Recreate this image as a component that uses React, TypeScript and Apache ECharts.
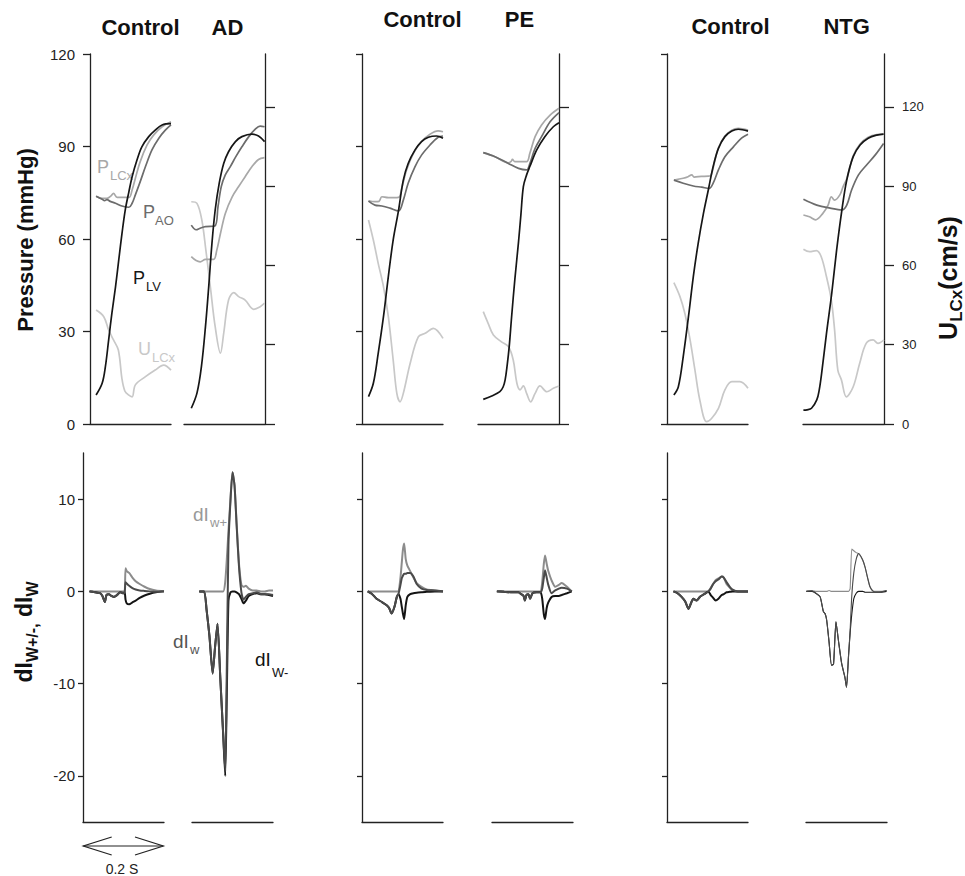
import React, { useEffect, useRef } from 'react';
import * as echarts from 'echarts';

const FONT = '"Liberation Sans", Arial, Helvetica, sans-serif';

type Pt = [number, number];

// ---------------- Top row: [time (ms), value] ----------------
// Group 1 – Control
const PLV_C1: Pt[] = [[15, 9.4], [30, 13.2], [38, 18.6], [46, 27.2], [54, 35.9], [63, 44.5], [71, 53.2], [79, 61.8], [87, 69.4], [96, 75.3], [104, 80.2], [116, 85.6], [128, 89.9], [145, 93.2], [161, 95.3], [178, 97.0], [200, 97.4]];
const PAO_C1: Pt[] = [[15, 73.9], [30, 72.9], [36, 72.4], [42, 72.8], [50, 72.2], [63, 71.6], [79, 70.7], [96, 70.3], [104, 71.6], [112, 74.3], [124, 78.6], [137, 83.5], [153, 88.9], [170, 92.7], [186, 95.3], [200, 97.0]];
const PLCX_C1: Pt[] = [[15, 73.9], [30, 73.2], [42, 73.2], [52, 74.0], [58, 74.8], [67, 73.5], [96, 73.5], [104, 75.9], [112, 79.7], [124, 85.1], [141, 90.5], [157, 93.7], [178, 96.4], [200, 98.0]];
const ULCX_C1: Pt[] = [[15, 43.1], [34, 40.6], [46, 35.6], [58, 31.8], [70, 28.0], [79, 17.0], [86, 12.5], [95, 11.0], [104, 10.3], [112, 14.8], [137, 17.9], [161, 20.4], [182, 22.3], [200, 20.4]];
// Group 1 – AD
const PLV_AD: Pt[] = [[18, 5.1], [32, 10.0], [43, 18.6], [53, 31.6], [61, 44.5], [69, 58.6], [77, 69.4], [87, 78.1], [98, 84.5], [110, 88.3], [127, 91.6], [143, 93.2], [168, 94.0], [184, 93.4], [199, 91.6]];
const PAO_AD: Pt[] = [[18, 64.5], [30, 63.0], [40, 63.5], [53, 64.0], [76, 64.2], [84, 70.5], [92, 77.0], [102, 80.8], [114, 83.4], [128, 86.7], [143, 89.9], [160, 93.2], [176, 95.6], [188, 96.6], [199, 96.4]];
const PLCX_AD: Pt[] = [[18, 54.3], [30, 53.0], [40, 52.6], [53, 53.4], [73, 53.4], [81, 56.4], [90, 61.8], [102, 68.3], [119, 73.7], [135, 77.0], [151, 80.2], [168, 83.5], [184, 85.8], [199, 86.4]];
const ULCX_AD: Pt[] = [[18, 84.1], [32, 83.5], [44, 77.2], [54, 65.8], [65, 52.0], [77, 36.8], [90, 26.8], [98, 34.3], [110, 46.9], [123, 49.7], [135, 48.2], [151, 46.9], [172, 43.4], [188, 44.4], [199, 45.7]];
// Group 2 – Control
const PLV_C2: Pt[] = [[16, 8.9], [28, 13.2], [40, 22.9], [53, 34.8], [65, 47.8], [77, 59.7], [90, 69.1], [102, 79.1], [114, 84.5], [131, 88.9], [147, 91.6], [164, 93.0], [184, 93.4], [200, 92.7]];
const PAO_C2: Pt[] = [[16, 72.3], [32, 71.0], [49, 70.7], [69, 70.0], [90, 69.1], [102, 72.6], [114, 78.1], [131, 83.5], [147, 87.2], [168, 90.5], [188, 93.0], [200, 93.4]];
const PLCX_C2: Pt[] = [[16, 72.4], [32, 72.1], [42, 72.2], [49, 73.7], [65, 73.4], [90, 73.5], [98, 76.4], [110, 82.4], [127, 87.8], [147, 91.6], [168, 94.0], [188, 95.1], [200, 94.8]];
const ULCX_C2: Pt[] = [[16, 77.2], [28, 69.6], [40, 60.8], [53, 52.0], [65, 40.6], [77, 24.2], [86, 11.6], [94, 8.4], [102, 11.6], [119, 23.0], [139, 33.0], [156, 34.3], [176, 36.2], [200, 32.4]];
// Group 2 – PE
const PLV_PE: Pt[] = [[13, 8.0], [34, 9.1], [54, 10.5], [62, 12.0], [67, 14.3], [72, 19.0], [77, 25.0], [83, 34.8], [91, 46.9], [100, 59.0], [106, 68.0], [112, 77.0], [120, 80.8], [128, 83.5], [145, 88.9], [165, 93.2], [186, 96.4], [200, 97.7]];
const PAO_PE: Pt[] = [[13, 88.0], [42, 86.7], [75, 84.5], [100, 82.9], [120, 82.4], [128, 84.5], [141, 89.4], [157, 93.2], [178, 98.0], [200, 101.0]];
const PLCX_PE: Pt[] = [[13, 88.0], [42, 86.7], [75, 84.7], [82, 85.2], [85, 85.8], [91, 85.1], [120, 85.1], [128, 87.8], [141, 93.2], [157, 97.0], [178, 100.2], [200, 102.4]];
const ULCX_PE: Pt[] = [[13, 42.5], [25, 38.1], [38, 33.7], [58, 31.1], [75, 29.3], [87, 24.2], [96, 15.4], [104, 12.9], [112, 14.4], [120, 11.6], [130, 8.4], [141, 11.6], [153, 14.4], [170, 12.2], [186, 13.5], [200, 14.4]];
// Group 3 – Control
const PLV_C3: Pt[] = [[17, 9.4], [28, 12.1], [40, 21.8], [53, 34.8], [65, 47.8], [77, 58.6], [90, 68.3], [102, 75.9], [114, 83.5], [127, 89.4], [143, 93.2], [160, 95.0], [176, 95.6], [200, 95.0]];
const PAO_C3: Pt[] = [[17, 79.1], [40, 78.1], [65, 77.2], [86, 76.8], [104, 76.4], [114, 78.1], [127, 82.4], [143, 86.7], [164, 89.9], [184, 92.7], [200, 94.0]];
const PLCX_C3: Pt[] = [[17, 79.1], [40, 79.7], [52, 80.2], [61, 80.8], [67, 80.1], [85, 80.3], [102, 80.4], [108, 80.6], [112, 82.0], [120, 86.5], [127, 89.6], [143, 93.4], [160, 95.3], [176, 95.9], [200, 95.3]];
const ULCX_C3: Pt[] = [[17, 53.5], [32, 48.2], [44, 41.9], [57, 31.8], [69, 20.4], [81, 9.1], [98, 0.9], [110, 2.1], [127, 5.9], [143, 12.9], [160, 16.0], [180, 16.0], [200, 13.5]];
// Group 3 – NTG
const PLV_NTG: Pt[] = [[1, 4.5], [10, 4.6], [21, 5.1], [34, 7.8], [40, 11.0], [46, 16.4], [58, 29.4], [71, 42.4], [83, 56.4], [96, 69.4], [108, 79.1], [124, 86.7], [141, 90.5], [161, 92.7], [182, 93.7], [199, 94.0]];
const PAO_NTG: Pt[] = [[1, 72.9], [34, 71.0], [67, 70.0], [96, 69.4], [108, 71.0], [120, 75.9], [137, 80.8], [157, 84.0], [178, 87.2], [199, 91.0]];
const PLCX_NTG: Pt[] = [[1, 67.8], [16, 67.2], [31, 66.2], [49, 68.3], [62, 71.0], [70, 73.7], [78, 72.6], [91, 74.3], [99, 77.0], [108, 79.5], [124, 87.0], [141, 90.8], [161, 93.0], [182, 93.9], [199, 94.0]];
const ULCX_NTG: Pt[] = [[1, 66.1], [16, 65.2], [33, 65.6], [45, 63.3], [58, 55.7], [70, 46.9], [78, 35.6], [86, 20.4], [95, 16.6], [107, 10.3], [124, 14.1], [140, 23.0], [156, 30.5], [173, 31.8], [185, 30.5], [200, 31.8]];

// ---------------- Bottom row: time (ms) + wave intensities ----------------
const T_B1C = [16, 30, 42, 48, 54, 58, 64, 70, 76, 84, 92, 100, 103, 105, 108, 114, 122, 130, 140, 152, 165, 180, 200];
const WP_B1C = [0, 0, 0, 0, 0, 0, 0, 0, 0, 0, 0, 0, 0, 2.5, 2.2, 2.0, 1.5, 1.1, 0.8, 0.5, 0.25, 0.1, 0];
const WM_B1C = [0, -0.1, -0.2, -0.5, -1.15, -0.4, -0.3, -0.5, -0.6, -0.4, -0.1, -0.2, -0.1, -0.9, -1.3, -1.4, -1.2, -1.0, -0.7, -0.45, -0.25, -0.1, 0];
const NET_B1C = [0, -0.1, -0.2, -0.5, -1.15, -0.4, -0.3, -0.5, -0.6, -0.4, -0.1, -0.2, -0.1, 1.0, 0.85, 0.6, 0.35, 0.2, 0.1, 0.05, 0, -0.05, 0];

const T_B1A = [18, 30, 36, 43, 51, 57, 63, 70, 77, 82, 86, 90, 95, 100, 105, 110, 116, 122, 127, 133, 140, 150, 160, 170, 180, 190, 200];
const WP_B1A = [0, 0, 0, 0, 0, 0, 0, 0, 0, 1, 3.5, 6.5, 10, 12.9, 11.5, 7.5, 3.0, 0.7, 0.5, 0.6, 0.3, 0.1, 0.1, 0, 0, 0.1, 0.1];
const WM_B1A = [0, 0, -2, -4.8, -8.9, -6, -3.5, -9.5, -15.5, -20, -11, -1, -0.1, 0, 0, -0.1, -0.3, -0.8, -1.3, -1.0, -0.5, -0.3, -0.2, -0.3, -0.3, -0.4, -0.5];
const NET_B1A = [0, 0, -2, -4.8, -8.9, -6, -3.5, -9.5, -15.5, -19.5, -8, 5.0, 9.8, 12.9, 11.5, 7.3, 2.7, -0.1, -0.9, -0.6, -0.3, -0.2, -0.1, -0.3, -0.3, -0.3, -0.4];

const T_B2C = [14, 24, 36, 49, 61, 67, 73, 80, 86, 90, 95, 98, 101, 104, 108, 112, 119, 127, 135, 147, 160, 180, 200];
const WP_B2C = [0, 0, 0, 0, 0, 0, 0, 0, 0, 0, 1.5, 3.0, 4.5, 5.2, 3.5, 2.8, 2.2, 1.5, 0.9, 0.5, 0.2, 0.1, 0];
const WM_B2C = [0, -0.25, -0.8, -1.15, -1.5, -1.8, -2.4, -1.7, -0.6, -0.3, -0.8, -1.6, -2.4, -3.0, -1.5, -0.6, -0.3, -0.2, -0.15, -0.1, -0.05, 0, 0];
const NET_B2C = [0, -0.25, -0.8, -1.15, -1.5, -1.8, -2.4, -1.7, -0.6, -0.3, 0.7, 1.4, 1.7, 1.9, 1.9, 2.0, 2.0, 1.6, 0.8, 0.3, 0.15, 0.1, 0];

const T_B2P = [12, 30, 50, 65, 72, 78, 81, 85, 90, 94, 100, 110, 120, 124, 128, 131, 135, 139, 147, 156, 165, 172, 185, 197];
const WP_B2P = [0, 0, 0, 0, 0, 0, 0, 0, 0, 0, 0, 0, 0, 1.0, 3.0, 3.9, 3.0, 2.2, 1.2, 0.5, 0.7, 0.9, 0.5, 0];
const WM_B2P = [0, -0.05, -0.1, -0.1, -0.3, -0.5, -1.0, -0.4, -0.3, -0.8, -0.2, -0.1, -0.1, -0.8, -2.5, -3.0, -1.8, -1.2, -0.6, -0.5, -0.5, -0.4, -0.2, 0];
const NET_B2P = [0, -0.05, -0.1, -0.1, -0.3, -0.5, -1.0, -0.4, -0.3, -0.8, -0.2, -0.1, -0.1, 0.3, 1.5, 2.3, 1.5, 0.7, -0.2, 0.1, 0.3, 0.4, 0.3, 0];

const T_B3C = [16, 26, 36, 45, 53, 60, 65, 73, 81, 88, 94, 102, 108, 114, 120, 127, 135, 140, 147, 155, 162, 175, 200];
const WP_B3C = [0, 0, 0, 0, 0, 0, 0, 0, 0, 0, 0, 0, 0.4, 0.8, 1.2, 1.4, 1.6, 1.5, 0.8, 0.4, 0.1, 0, 0];
const WM_B3C = [0, -0.2, -0.6, -1.1, -1.9, -1.2, -0.8, -1.0, -0.6, -0.4, -0.25, 0, -0.4, -0.7, -1.0, -0.8, -0.4, -0.3, -0.1, -0.05, 0, 0, 0];
const NET_B3C = [0, -0.2, -0.6, -1.1, -1.9, -1.2, -0.8, -1.0, -0.6, -0.4, -0.25, 0, 0.3, 0.8, 1.1, 1.3, 1.6, 1.5, 1.0, 0.5, 0.2, 0, 0];

const T_B3N = [1, 15, 26, 35, 43, 47, 51, 57, 63, 68, 74, 80, 88, 96, 100, 105, 109, 113, 118, 124, 130, 140, 146, 152, 158, 166, 180, 199];
const WP_B3N = [0, 0.05, 0, 0, 0, 0, 0, 0.1, 0, 0, 0, 0, 0, 0, 0, 0, 0.3, 4.6, 4.4, 4.2, 4.1, 3.4, 2.6, 1.5, 0.5, 0.05, 0, 0.1];
const WM_B3N = [0, 0, -0.25, -0.6, -2.2, -2.4, -3.1, -5.5, -8.0, -7.9, -3.3, -5.3, -7.8, -9.3, -10.4, -7, -4.5, -2.5, -0.8, -0.2, 0, 0, -0.1, -0.1, -0.1, -0.1, -0.1, 0];
const NET_B3N = [0, 0.05, -0.25, -0.6, -2.2, -2.4, -3.1, -5.5, -8.0, -7.9, -3.3, -5.3, -7.8, -9.3, -10.4, -7, -4.2, -0.5, 2.0, 3.5, 4.1, 3.4, 2.6, 1.5, 0.5, 0, -0.1, 0.1];

// ---------------- Axes / labels ----------------
const PRESSURE_TICKS = [0, 30, 60, 90, 120];
const VELOCITY_TICKS = [0, 30, 60, 90, 120];
const WAVE_TICKS = [-20, -10, 0, 10];
const PANEL_TITLES = ['Control', 'AD', 'Control', 'PE', 'Control', 'NTG'];

const C_LV = '#161616';
const C_AO = '#6c6c6c';
const C_LCX = '#a8a8a8';
const C_U = '#c8c8c8';
const C_WP = '#8c8c8c';
const C_WM = '#141414';
const C_NET = '#4a4a4a';
const C_AXIS = '#222222';

const TOP_PANELS = [
  { u: ULCX_C1, lcx: PLCX_C1, ao: PAO_C1, lv: PLV_C1 },
  { u: ULCX_AD, lcx: PLCX_AD, ao: PAO_AD, lv: PLV_AD },
  { u: ULCX_C2, lcx: PLCX_C2, ao: PAO_C2, lv: PLV_C2 },
  { u: ULCX_PE, lcx: PLCX_PE, ao: PAO_PE, lv: PLV_PE },
  { u: ULCX_C3, lcx: PLCX_C3, ao: PAO_C3, lv: PLV_C3 },
  { u: ULCX_NTG, lcx: PLCX_NTG, ao: PAO_NTG, lv: PLV_NTG },
];
const BOTTOM_PANELS = [
  { t: T_B1C, wp: WP_B1C, wm: WM_B1C, net: NET_B1C },
  { t: T_B1A, wp: WP_B1A, wm: WM_B1A, net: NET_B1A },
  { t: T_B2C, wp: WP_B2C, wm: WM_B2C, net: NET_B2C },
  { t: T_B2P, wp: WP_B2P, wm: WM_B2P, net: NET_B2P },
  { t: T_B3C, wp: WP_B3C, wm: WM_B3C, net: NET_B3C },
  { t: T_B3N, wp: WP_B3N, wm: WM_B3N, net: NET_B3N },
];

// layout
const TOP_LEFTS = [90, 184, 362, 478, 667, 803];
const BOT_LEFTS = [83, 192, 362, 492, 667, 806];
const PANEL_W = 81;

function measure(text: string, font: string): number {
  const c = document.createElement('canvas').getContext('2d');
  if (!c) return text.length * 10;
  c.font = font;
  return c.measureText(text).width;
}

function txt(text: string, x: number, y: number, size: number, color: string, bold = false, align = 'left') {
  const font = `${bold ? 'bold ' : ''}${size}px ${FONT}`;
  return {
    type: 'text',
    x,
    y,
    silent: true,
    style: {
      text,
      font,
      fill: color,
      textAlign: align,
      textVerticalAlign: 'middle',
      align,
      verticalAlign: 'middle',
    },
  };
}

type Seg = { text: string; size: number; dy: number };
function rotatedLabel(segs: Seg[], cx: number, cy: number) {
  const fonts = segs.map((s) => `bold ${s.size}px ${FONT}`);
  const widths = segs.map((s, i) => measure(s.text, fonts[i]));
  const total = widths.reduce((a, b) => a + b, 0);
  let x = -total / 2;
  const children = segs.map((s, i) => {
    const el = {
      type: 'text',
      x,
      y: s.dy,
      silent: true,
      style: {
        text: s.text,
        font: fonts[i],
        fill: '#111',
        textAlign: 'left',
        textVerticalAlign: 'middle',
        align: 'left',
        verticalAlign: 'middle',
      },
    };
    x += widths[i];
    return el;
  });
  return { type: 'group', x: cx, y: cy, rotation: Math.PI / 2, children };
}

export default function App() {
  const ref = useRef<HTMLDivElement>(null);

  useEffect(() => {
    document.body.style.margin = '0';
    if (!ref.current) return;
    const chart = echarts.init(ref.current, undefined, { renderer: 'svg' });

    const grid: any[] = [];
    const xAxis: any[] = [];
    const yAxis: any[] = [];
    const series: any[] = [];

    const axisLineStyle = { color: C_AXIS, width: 1.3 };

    // top grids
    TOP_LEFTS.forEach((left, i) => {
      grid.push({ left, top: 54, width: PANEL_W, height: 370, outerBoundsMode: 'none' });
    });
    BOT_LEFTS.forEach((left) => {
      grid.push({ left, top: 453, width: PANEL_W, height: 369, outerBoundsMode: 'none' });
    });
    for (let g = 0; g < 12; g++) {
      xAxis.push({
        gridIndex: g,
        type: 'value',
        min: 0,
        max: 200,
        axisLine: { show: true, onZero: false, lineStyle: axisLineStyle },
        axisTick: { show: false },
        axisLabel: { show: false },
        splitLine: { show: false },
      });
    }
    // top y axes: pressure (2i), velocity (2i+1)
    for (let i = 0; i < 6; i++) {
      const isControl = i % 2 === 0;
      yAxis.push({
        gridIndex: i,
        type: 'value',
        min: 0,
        max: 120,
        interval: 30,
        position: 'left',
        show: isControl,
        axisLine: { show: true, lineStyle: axisLineStyle },
        axisTick: { show: true, length: i === 0 ? 7 : 6, lineStyle: axisLineStyle, customValues: PRESSURE_TICKS },
        axisLabel: {
          show: i === 0,
          margin: 15,
          fontSize: 15,
          color: '#222',
          fontFamily: FONT,
          customValues: PRESSURE_TICKS,
        },
        splitLine: { show: false },
      });
      yAxis.push({
        gridIndex: i,
        type: 'value',
        min: 0,
        max: 140,
        position: 'right',
        show: !isControl,
        axisLine: { show: true, lineStyle: axisLineStyle },
        axisTick: { show: true, length: 10, lineStyle: axisLineStyle, customValues: VELOCITY_TICKS },
        axisLabel: {
          show: i === 5,
          margin: 18,
          fontSize: 13,
          color: '#222',
          fontFamily: FONT,
          customValues: VELOCITY_TICKS,
        },
        splitLine: { show: false },
      });
    }
    // bottom y axes (index 12 + j)
    for (let j = 0; j < 6; j++) {
      const isControl = j % 2 === 0;
      yAxis.push({
        gridIndex: 6 + j,
        type: 'value',
        min: -25,
        max: 15,
        position: 'left',
        show: isControl,
        axisLine: { show: true, lineStyle: axisLineStyle },
        axisTick: { show: true, length: 5, lineStyle: axisLineStyle, customValues: WAVE_TICKS },
        axisLabel: {
          show: j === 0,
          margin: 8,
          fontSize: 15,
          color: '#222',
          fontFamily: FONT,
          customValues: WAVE_TICKS,
        },
        splitLine: { show: false },
      });
    }

    const line = (name: string, xi: number, yi: number, data: any[], color: string, width: number, smooth: number) => ({
      name,
      type: 'line',
      xAxisIndex: xi,
      yAxisIndex: yi,
      data,
      showSymbol: false,
      symbol: 'none',
      smooth,
      silent: true,
      lineStyle: { color, width },
      itemStyle: { color },
    });

    TOP_PANELS.forEach((p, i) => {
      series.push(line('U_LCx', i, 2 * i + 1, p.u, C_U, 1.7, 0.35));
      series.push(line('P_LCx', i, 2 * i, p.lcx, C_LCX, 1.7, 0.35));
      series.push(line('P_AO', i, 2 * i, p.ao, C_AO, 1.7, 0.35));
      series.push(line('P_LV', i, 2 * i, p.lv, C_LV, 1.7, 0.35));
    });
    BOTTOM_PANELS.forEach((p, j) => {
      const w = j === 5 ? 1.1 : 2;
      const mk = (arr: number[]) => p.t.map((t, k) => [t, arr[k]]);
      series.push(line('dI_w+', 6 + j, 12 + j, mk(p.wp), C_WP, w, 0.2));
      series.push(line('dI_w-', 6 + j, 12 + j, mk(p.wm), C_WM, w, 0.2));
      series.push(line('dI_w', 6 + j, 12 + j, mk(p.net), C_NET, w, 0.2));
    });

    const TITLE_POS: [number, number][] = [[140.5, 27], [227.5, 27], [422.5, 19.5], [519.5, 19.5], [730.5, 26], [846.7, 26]];
    const elements: any[] = [];
    PANEL_TITLES.forEach((t, i) => {
      elements.push(txt(t, TITLE_POS[i][0], TITLE_POS[i][1], 22, '#111', true, 'center'));
    });

    // trace annotations
    elements.push(txt('P', 97, 166.5, 18, C_LCX));
    elements.push(txt('LCx', 110, 175, 13, C_LCX));
    elements.push(txt('P', 143, 211.5, 18, C_AO));
    elements.push(txt('AO', 155, 220, 13, C_AO));
    elements.push(txt('P', 133, 278, 18, C_LV));
    elements.push(txt('LV', 146, 286.5, 13, C_LV));
    elements.push(txt('U', 138, 348.5, 18, C_U));
    elements.push(txt('LCx', 152, 357, 13, C_U));
    elements.push(txt('dI', 193, 514.5, 19, '#999'));
    elements.push(txt('w+', 210, 522, 13, '#999'));
    elements.push(txt('dI', 173, 641, 19, '#555'));
    elements.push(txt('w', 190, 649, 13, '#555'));
    elements.push(txt('dI', 255, 659, 19, '#111'));
    elements.push(txt('W-', 272, 672, 13, '#111'));

    // axis names
    elements.push({
      type: 'text',
      x: 25,
      y: 240,
      rotation: Math.PI / 2,
      silent: true,
      style: {
        text: 'Pressure (mmHg)',
        font: `bold 22px ${FONT}`,
        fill: '#111',
        textAlign: 'center',
        textVerticalAlign: 'middle',
        align: 'center',
        verticalAlign: 'middle',
      },
    });
    elements.push(
      rotatedLabel(
        [
          { text: 'dI', size: 23, dy: 0 },
          { text: 'W+/-,', size: 16, dy: 8 },
          { text: ' dI', size: 23, dy: 0 },
          { text: 'W', size: 16, dy: 8 },
        ],
        24,
        632
      )
    );
    elements.push(
      rotatedLabel(
        [
          { text: 'U', size: 25, dy: 0 },
          { text: 'LCx', size: 17, dy: 8 },
          { text: '(cm/s)', size: 25, dy: 0 },
        ],
        948,
        278
      )
    );

    // time scale bar
    const arrowStyle = { stroke: '#222', lineWidth: 1.2, fill: 'none' };
    elements.push({ type: 'line', silent: true, shape: { x1: 83.3, y1: 846, x2: 163.3, y2: 846 }, style: arrowStyle });
    elements.push({ type: 'polyline', silent: true, shape: { points: [[111.7, 837], [83.3, 846], [111.7, 855]] }, style: arrowStyle });
    elements.push({ type: 'polyline', silent: true, shape: { points: [[135, 837], [163.3, 846], [135, 855]] }, style: arrowStyle });
    elements.push(txt('0.2 S', 122, 869, 14, '#222', false, 'center'));

    chart.setOption({
      animation: false,
      backgroundColor: '#ffffff',
      textStyle: { fontFamily: FONT },
      grid,
      xAxis,
      yAxis,
      series,
      graphic: { elements },
    });

    return () => chart.dispose();
  }, []);

  return <div ref={ref} style={{ width: 965, height: 876 }} />;
}
